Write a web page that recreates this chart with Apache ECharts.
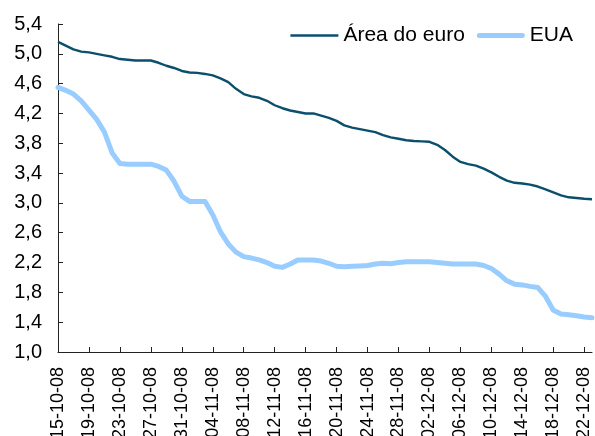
<!DOCTYPE html>
<html>
<head>
<meta charset="utf-8">
<script src="https://cdn.jsdelivr.net/npm/echarts@6/dist/echarts.min.js"></script>
<style>
  html, body { margin: 0; padding: 0; background: #fff; }
  #chart { width: 595px; height: 436px; }
</style>
</head>
<body>
<div id="chart"></div>
<script>
var dates = [
    '15-10-08','16-10-08','17-10-08','18-10-08','19-10-08','20-10-08','21-10-08','22-10-08','23-10-08','24-10-08',
    '25-10-08','26-10-08','27-10-08','28-10-08','29-10-08','30-10-08','31-10-08','01-11-08','02-11-08','03-11-08',
    '04-11-08','05-11-08','06-11-08','07-11-08','08-11-08','09-11-08','10-11-08','11-11-08','12-11-08','13-11-08',
    '14-11-08','15-11-08','16-11-08','17-11-08','18-11-08','19-11-08','20-11-08','21-11-08','22-11-08','23-11-08',
    '24-11-08','25-11-08','26-11-08','27-11-08','28-11-08','29-11-08','30-11-08','01-12-08','02-12-08','03-12-08',
    '04-12-08','05-12-08','06-12-08','07-12-08','08-12-08','09-12-08','10-12-08','11-12-08','12-12-08','13-12-08',
    '14-12-08','15-12-08','16-12-08','17-12-08','18-12-08','19-12-08','20-12-08','21-12-08','22-12-08','23-12-08'
];

var euroArea = [
    5.16, 5.11, 5.06, 5.03, 5.02, 5.00, 4.98, 4.96, 4.93, 4.92,
    4.91, 4.91, 4.91, 4.88, 4.84, 4.81, 4.77, 4.75, 4.745, 4.73,
    4.71, 4.67, 4.62, 4.53, 4.46, 4.43, 4.41, 4.37, 4.31, 4.27,
    4.24, 4.22, 4.20, 4.20, 4.17, 4.14, 4.10, 4.04, 4.01, 3.99,
    3.97, 3.95, 3.91, 3.88, 3.86, 3.84, 3.83, 3.825, 3.82, 3.78,
    3.71, 3.62, 3.55, 3.52, 3.50, 3.46, 3.41, 3.35, 3.30, 3.27,
    3.26, 3.245, 3.22, 3.18, 3.14, 3.10, 3.075, 3.065, 3.055, 3.05
];

var usa = [
    4.55, 4.51, 4.46, 4.37, 4.245, 4.12, 3.95, 3.67, 3.53, 3.52,
    3.52, 3.52, 3.52, 3.49, 3.44, 3.29, 3.09, 3.02, 3.02, 3.02,
    2.84, 2.61, 2.45, 2.34, 2.28, 2.26, 2.235, 2.20, 2.15, 2.135,
    2.18, 2.235, 2.235, 2.235, 2.22, 2.19, 2.15, 2.145, 2.15, 2.155,
    2.16, 2.18, 2.19, 2.185, 2.20, 2.21, 2.21, 2.21, 2.21, 2.20,
    2.19, 2.18, 2.18, 2.18, 2.18, 2.16, 2.12, 2.045, 1.955, 1.91,
    1.90, 1.88, 1.865, 1.745, 1.56, 1.51, 1.50, 1.485, 1.47, 1.46
];

var myChart = echarts.init(document.getElementById('chart'));

var font = "'Liberation Sans', Arial, sans-serif";

var option = {
    animation: false,
    textStyle: { fontFamily: font },
    legend: {
        right: 17,
        top: 20,
        itemWidth: 48,
        itemHeight: 14,
        itemGap: 12,
        textStyle: { fontSize: 21, color: '#000', fontFamily: font },
        data: [
            { name: 'Área do euro', icon: 'path://M0,0H48V2.4H0Z' },
            { name: 'EUA', icon: 'path://M2.5,0H45.5A2.5,2.5 0 0 1 45.5,5H2.5A2.5,2.5 0 0 1 2.5,0Z' }
        ]
    },
    grid: {
        left: 58,
        right: 3,
        top: 24,
        bottom: 84,
        containLabel: false,
        outerBoundsMode: 'none'
    },
    xAxis: {
        type: 'category',
        data: dates,
        boundaryGap: false,
        axisLine: { lineStyle: { color: '#222', width: 1 } },
        axisTick: { inside: true, length: 5, interval: 3, lineStyle: { color: '#222' } },
        axisLabel: {
            interval: 3,
            rotate: 90,
            margin: 15,
            fontSize: 18,
            color: '#000',
            fontFamily: font
        },
        splitLine: { show: false }
    },
    yAxis: {
        type: 'value',
        min: 1.0,
        max: 5.4,
        interval: 0.4,
        axisLine: { show: true, lineStyle: { color: '#222', width: 1 } },
        axisTick: { show: true, inside: true, length: 5, lineStyle: { color: '#222' } },
        axisLabel: {
            margin: 16,
            fontSize: 20,
            color: '#000',
            fontFamily: font,
            formatter: function (v) { return v.toFixed(1).replace('.', ','); }
        },
        splitLine: { show: false }
    },
    series: [
        {
            name: 'Área do euro',
            type: 'line',
            data: euroArea,
            symbol: 'none',
            lineStyle: { color: '#0b4f6c', width: 2.4 },
            itemStyle: { color: '#0b4f6c' }
        },
        {
            name: 'EUA',
            type: 'line',
            data: usa,
            symbol: 'none',
            lineStyle: { color: '#99ccff', width: 5, cap: 'round', join: 'round' },
            itemStyle: { color: '#99ccff' }
        }
    ]
};

myChart.setOption(option);
</script>
</body>
</html>
